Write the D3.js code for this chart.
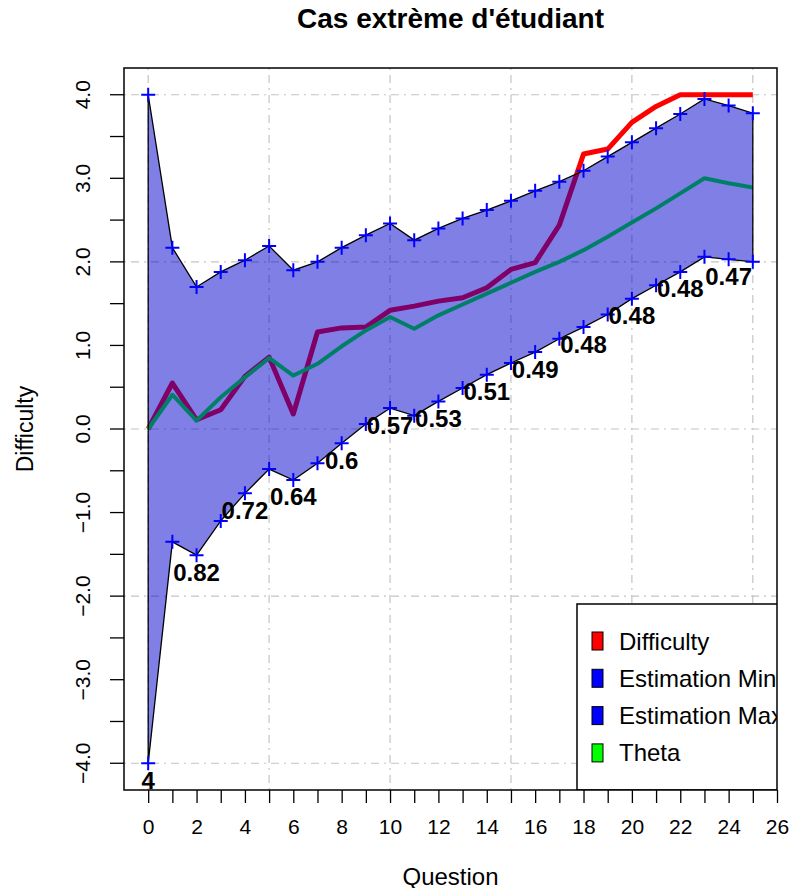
<!DOCTYPE html>
<html>
<head>
  <script src="https://d3js.org/d3.v7.min.js"></script>
  <title>Cas extrème d'étudiant</title>
  <style>
    body { margin: 0; background: #fff; }
    text { font-family: "Liberation Sans", Arial, sans-serif; }
  </style>
</head>
<body>
  <div id='chart'></div>
  <script>
    // values, one per question 0..25
    var questions = d3.range(0, 26);
    var difficulty = [0.0, 0.55, 0.11, 0.23, 0.63, 0.86, 0.18, 1.16, 1.21, 1.22, 1.42, 1.47, 1.53,
                      1.57, 1.69, 1.91, 1.99, 2.44, 3.29, 3.35, 3.67, 3.86, 4.0, 4.0, 4.0, 4.0];
    var theta = [0.0, 0.41, 0.10, 0.38, 0.62, 0.85, 0.64, 0.78, 0.99, 1.18, 1.34, 1.20, 1.36,
                 1.49, 1.62, 1.75, 1.88, 2.0, 2.14, 2.30, 2.47, 2.64, 2.82, 3.0, 2.94, 2.89];
    var estMax = [4.0, 2.17, 1.70, 1.88, 2.02, 2.19, 1.90, 2.00, 2.17, 2.32, 2.46, 2.26, 2.40,
                  2.52, 2.62, 2.73, 2.85, 2.96, 3.09, 3.26, 3.43, 3.60, 3.77, 3.95, 3.87, 3.78];
    var estMin = [-4.0, -1.35, -1.51, -1.10, -0.77, -0.48, -0.61, -0.41, -0.17, 0.06, 0.25, 0.16, 0.33,
                  0.49, 0.65, 0.79, 0.92, 1.08, 1.22, 1.37, 1.56, 1.72, 1.88, 2.06, 2.03, 2.00];
    var seQuestions = [0, 2, 4, 6, 8, 10, 12, 14, 16, 18, 20, 22, 24];
    var seLabels = ["4", "0.82", "0.72", "0.64", "0.6", "0.57", "0.53", "0.51", "0.49", "0.48", "0.48", "0.48", "0.47"];
    var xTicks = d3.range(0, 27);
    var yTicks = d3.range(-4, 4.01, 0.5);
    var xGrid = [0, 5, 10, 15, 20, 25];
    var yGrid = [-4, -2, 0, 2, 4];
    var legendNames = ["Difficulty", "Estimation Min", "Estimation Max", "Theta"];
    var legendColors = ["#ff0000", "#0000ff", "#0000ff", "#00ff00"];

    var width = 792, height = 888;
    var pl = 124, pr = 777, pt = 68, pb = 790;

    var svg = d3.select('#chart').append('svg').attr('width', width).attr('height', height);

    var x = d3.scaleLinear().domain([-1, 26]).range([pl, pr]);
    var y = d3.scaleLinear().domain([-4.32, 4.32]).range([pb, pt]);

    svg.append('defs').append('clipPath').attr('id', 'plotclip')
      .append('rect').attr('x', pl).attr('y', pt).attr('width', pr - pl).attr('height', pb - pt);

    // grid
    var grid = svg.append('g').attr('stroke', '#c4c4c4').attr('stroke-width', 1.2).attr('stroke-dasharray', '2,5,8,5');
    grid.selectAll('.gx').data(xGrid).enter().append('line')
      .attr('x1', d => x(d)).attr('x2', d => x(d)).attr('y1', pt).attr('y2', pb);
    grid.selectAll('.gy').data(yGrid).enter().append('line')
      .attr('x1', pl).attr('x2', pr).attr('y1', d => y(d)).attr('y2', d => y(d));

    var plot = svg.append('g').attr('clip-path', 'url(#plotclip)');

    var line = d3.line().x((d, i) => x(questions[i])).y(d => y(d));

    plot.append('path').attr('d', line(difficulty))
      .attr('fill', 'none').attr('stroke', '#ff0000').attr('stroke-width', 5).attr('stroke-linejoin', 'round');
    plot.append('path').attr('d', line(theta))
      .attr('fill', 'none').attr('stroke', '#00ff00').attr('stroke-width', 4).attr('stroke-linejoin', 'round');

    // band between the two estimations
    var band = questions.map(q => [x(q), y(estMax[q])])
      .concat(questions.slice().reverse().map(q => [x(q), y(estMin[q])]));
    plot.append('path').attr('d', 'M' + band.join('L') + 'Z')
      .attr('fill', 'rgb(0,0,205)').attr('fill-opacity', 0.5)
      .attr('stroke', '#000').attr('stroke-width', 1.3);

    var plus = 'M-7,0H7M0,-7V7';
    plot.selectAll('.pmax').data(questions).enter().append('path')
      .attr('d', plus).attr('transform', d => 'translate(' + x(d) + ',' + y(estMax[d]) + ')')
      .attr('stroke', '#0000ff').attr('stroke-width', 2);
    plot.selectAll('.pmin').data(questions).enter().append('path')
      .attr('d', plus).attr('transform', d => 'translate(' + x(d) + ',' + y(estMin[d]) + ')')
      .attr('stroke', '#0000ff').attr('stroke-width', 2);

    svg.selectAll('.se').data(seQuestions).enter().append('text')
      .attr('x', d => x(d)).attr('y', d => y(estMin[d]) + 17)
      .attr('text-anchor', 'middle').attr('dominant-baseline', 'central')
      .attr('font-size', 24).attr('font-weight', 'bold')
      .text((d, i) => seLabels[i]);

    // legend, cut at the plot border
    var leg = plot.append('g');
    leg.append('rect').attr('x', 577).attr('y', 604).attr('width', 260).attr('height', pb - 604)
      .attr('fill', '#fff').attr('stroke', '#000').attr('stroke-width', 1.5);
    leg.selectAll('.sw').data(legendNames).enter().append('rect')
      .attr('x', 592).attr('y', (d, i) => 632 + i * 37.3).attr('width', 11).attr('height', 18)
      .attr('fill', (d, i) => legendColors[i]).attr('stroke', '#000').attr('stroke-width', 1);
    leg.selectAll('.lt').data(legendNames).enter().append('text')
      .attr('x', 619).attr('y', (d, i) => 641 + i * 37.3).attr('dominant-baseline', 'central')
      .attr('font-size', 24).text(d => d);

    // frame
    svg.append('rect').attr('x', pl).attr('y', pt).attr('width', pr - pl).attr('height', pb - pt)
      .attr('fill', 'none').attr('stroke', '#000').attr('stroke-width', 1.5);

    // axes
    var xAxis = svg.append('g').attr('transform', 'translate(0,' + pb + ')')
      .call(d3.axisBottom(x).tickValues(xTicks).tickSize(13).tickPadding(14)
        .tickFormat(d => d % 2 === 0 ? d : ''));
    var yAxis = svg.append('g').attr('transform', 'translate(' + pl + ',0)')
      .call(d3.axisLeft(y).tickValues(yTicks).tickSize(14)
        .tickFormat(d => Number.isInteger(d) ? d3.format('.1f')(d).replace('-', '−') : ''));
    [xAxis, yAxis].forEach(function(a) {
      a.select('.domain').remove();
      a.selectAll('line').attr('stroke', '#000').attr('stroke-width', 1.3);
      a.selectAll('text').attr('font-size', 21).attr('fill', '#000')
        .attr('font-family', '"Liberation Sans", Arial, sans-serif');
    });
    xAxis.selectAll('text').attr('dy', null).attr('y', 36).attr('dominant-baseline', 'central');
    yAxis.selectAll('.tick').attr('transform', null);
    yAxis.selectAll('.tick line').attr('y1', d => y(d)).attr('y2', d => y(d));
    yAxis.selectAll('.tick text').attr('x', null).attr('dy', null).attr('y', null)
      .attr('text-anchor', 'middle').attr('dominant-baseline', 'central')
      .attr('transform', d => 'translate(-42,' + y(d) + ') rotate(-90)');

    svg.append('text').attr('x', (pl + pr) / 2).attr('y', 876)
      .attr('text-anchor', 'middle').attr('dominant-baseline', 'central')
      .attr('font-size', 24).text('Question');
    svg.append('text').attr('transform', 'translate(25,' + (pt + pb) / 2 + ') rotate(-90)')
      .attr('text-anchor', 'middle').attr('dominant-baseline', 'central')
      .attr('font-size', 23).text('Difficulty');
    svg.append('text').attr('x', (pl + pr) / 2).attr('y', 18)
      .attr('text-anchor', 'middle').attr('dominant-baseline', 'central')
      .attr('font-size', 28).attr('font-weight', 'bold').text("Cas extrème d'étudiant");
  </script>
</body>
</html>
